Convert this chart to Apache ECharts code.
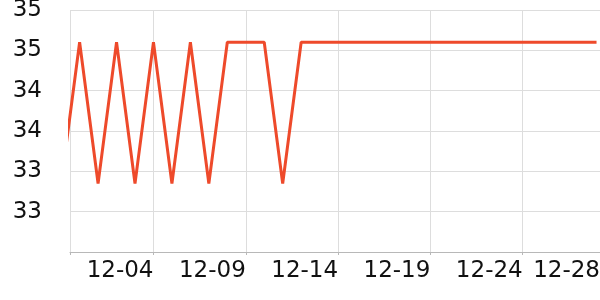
<!DOCTYPE html>
<html>
<head>
<meta charset="utf-8">
<script src="https://cdn.jsdelivr.net/npm/echarts@6/dist/echarts.min.js"></script>
<style>
  html, body { margin: 0; padding: 0; background: #ffffff; }
  #chart { width: 600px; height: 300px; }
</style>
</head>
<body>
<div id="chart"></div>
<script>
// ---- data ----
const dates = [
  '2023-11-29', '2023-11-30', '2023-12-01', '2023-12-02', '2023-12-03',
  '2023-12-04', '2023-12-05', '2023-12-06', '2023-12-07', '2023-12-08',
  '2023-12-09', '2023-12-10', '2023-12-11', '2023-12-12', '2023-12-13',
  '2023-12-14', '2023-12-15', '2023-12-16', '2023-12-17', '2023-12-18',
  '2023-12-19', '2023-12-20', '2023-12-21', '2023-12-22', '2023-12-23',
  '2023-12-24', '2023-12-25', '2023-12-26', '2023-12-27', '2023-12-28'
];
const values = [
  32.85, 34.6, 32.85, 34.6, 32.85,
  34.6, 32.85, 34.6, 32.85, 34.6,
  34.6, 34.6, 32.85, 34.6, 34.6,
  34.6, 34.6, 34.6, 34.6, 34.6,
  34.6, 34.6, 34.6, 34.6, 34.6,
  34.6, 34.6, 34.6, 34.6, 34.6
];
const xRange = ['2023-11-29 11:30', '2023-12-28 04:30'];
const xTickDates = ['2023-12-04', '2023-12-09', '2023-12-14', '2023-12-19', '2023-12-24'];
const yTicks = [32.5, 33, 33.5, 34, 34.5, 35];
const yTickLabels = ['33', '33', '34', '34', '35', '35'];

// ---- helpers ----
function ts(s) {
  const m = s.match(/(\d+)-(\d+)-(\d+)(?:\s+(\d+):(\d+))?/);
  return new Date(+m[1], +m[2] - 1, +m[3], m[4] ? +m[4] : 0, m[5] ? +m[5] : 0).getTime();
}
function pad(n) { return (n < 10 ? '0' : '') + n; }
function fmt(v) { const d = new Date(v); return pad(d.getMonth() + 1) + '-' + pad(d.getDate()); }

const xMin = ts(xRange[0]);
const xMax = ts(xRange[1]);
const seriesData = dates.map((d, i) => [ts(d), values[i]]);
const tickVals = [xMin].concat(xTickDates.map(ts));
const labelVals = xTickDates.map(ts).concat([xMax]);

const FONT = 'DejaVu Sans';
const chart = echarts.init(document.getElementById('chart'), null, { renderer: 'canvas' });
chart.setOption({
  animation: false,
  backgroundColor: '#ffffff',
  grid: { left: 70, right: 0, top: 10, bottom: 48, containLabel: false, outerBoundsMode: 'none' },
  xAxis: {
    type: 'value',
    min: xMin,
    max: xMax,
    axisLine: { show: true, lineStyle: { color: '#b8b8b8', width: 1 } },
    axisTick: { show: true, length: 3, lineStyle: { color: '#b8b8b8' }, customValues: tickVals },
    splitLine: { show: true, lineStyle: { color: '#dddddd', width: 1 } },
    axisLabel: {
      customValues: labelVals,
      formatter: (v) => fmt(v),
      align: 'right',
      margin: 8,
      color: '#111111',
      fontFamily: FONT,
      fontSize: 23
    }
  },
  yAxis: {
    type: 'value',
    min: 32,
    max: 35,
    interval: 0.5,
    axisLine: { show: false },
    axisTick: { show: false },
    splitLine: { show: true, lineStyle: { color: '#dddddd', width: 1 } },
    axisLabel: {
      customValues: yTicks,
      formatter: (v) => { const i = yTicks.indexOf(v); return i >= 0 ? yTickLabels[i] : ''; },
      margin: 28,
      color: '#111111',
      fontFamily: FONT,
      fontSize: 23
    }
  },
  series: [{
    type: 'line',
    data: seriesData,
    showSymbol: false,
    smooth: false,
    clip: true,
    lineStyle: { color: '#ee4a2b', width: 3 },
    itemStyle: { color: '#ee4a2b' }
  }]
});
</script>
</body>
</html>
